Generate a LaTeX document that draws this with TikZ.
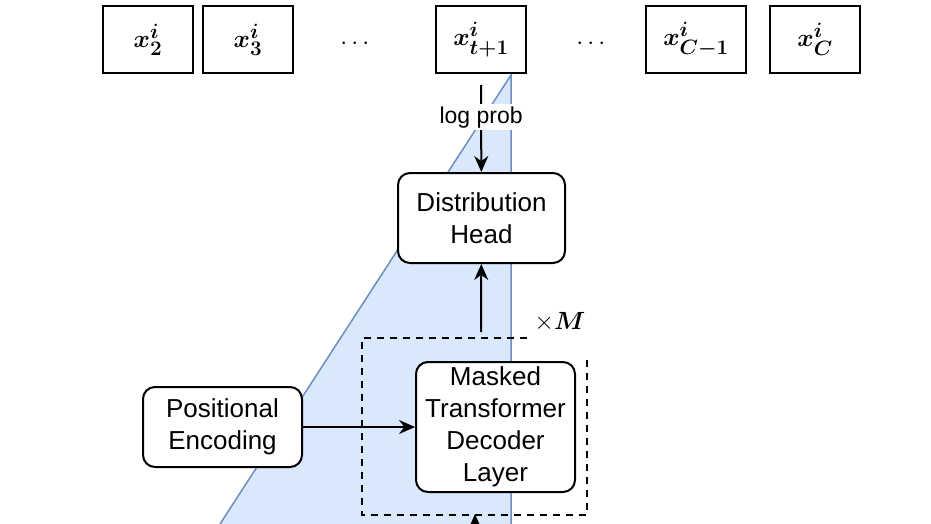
\documentclass[tikz,border=0pt]{standalone}
\usepackage{amsmath,bm}
\usepackage{fontspec}
\setmainfont{Liberation Sans}
\usetikzlibrary{arrows.meta}
\begin{document}
\begin{tikzpicture}[x=1pt,y=-1pt,
 box/.style={draw,line width=2pt,fill=white,inner sep=0pt},
 rbox/.style={draw,line width=2pt,fill=white,rounded corners=12pt,inner sep=0pt,align=center,font=\fontsize{26}{32}\selectfont},
 arr/.style={line width=2pt,-{Stealth[length=16pt,width=14pt]}},
 lbl/.style={font=\fontsize{30}{34}\selectfont}]
\useasboundingbox (0,0) rectangle (931,524);
\fill[fill={rgb,255:red,218;green,232;blue,252},draw={rgb,255:red,108;green,142;blue,191},line width=1.5pt] (220,524) -- (511,75) -- (511,524);
\node[box,minimum width=90pt,minimum height=67pt,lbl] (b1) at (148,39.5) {$\bm{x^i_2}$};
\node[box,minimum width=90pt,minimum height=67pt,lbl] (b2) at (248,39.5) {$\bm{x^i_3}$};
\node[lbl] (d1) at (357,44) {$\cdots$};
\node[box,minimum width=90pt,minimum height=67pt,lbl,fill=none] (b3) at (481,39.5) {$\bm{x^i_{t+1}}$};
\node[lbl] (d2) at (593,44) {$\cdots$};
\node[box,minimum width=100pt,minimum height=67pt,lbl] (b4) at (696,39.5) {$\bm{x^i_{C-1}}$};
\node[box,minimum width=90pt,minimum height=67pt,lbl] (b5) at (815,39.5) {$\bm{x^i_C}$};
\node[rbox,minimum width=167pt,minimum height=90pt] (dh) at (481.5,218) {Distribution\\Head};
\node[rbox,minimum width=159pt,minimum height=130pt,text width=155pt] (ml) at (495.5,427) {Masked\\Transformer\\Decoder\\Layer};
\node[rbox,minimum width=159pt,minimum height=80pt] (pe) at (222.5,427) {Positional\\Encoding};
\coordinate (lp) at (481,85);
\draw[arr] (lp) -- node[fill=white,font=\fontsize{23}{27}\selectfont,inner sep=2pt,pos=0.37] {log prob} (dh);
\coordinate (mt) at (481,332);
\draw[arr] (mt) -- (dh);
\draw[arr] (pe) -- (ml);
\draw[line width=2pt,dash pattern=on 7pt off 6pt] (527,338) -- (362,338) -- (362,515) -- (587,515) -- (587,357);
\node[lbl] (xm) at (560,322) {$\times \bm{M}$};
\coordinate (bt) at (475,535);
\draw[arr] (bt) -- (475,514);
\end{tikzpicture}
\end{document}
